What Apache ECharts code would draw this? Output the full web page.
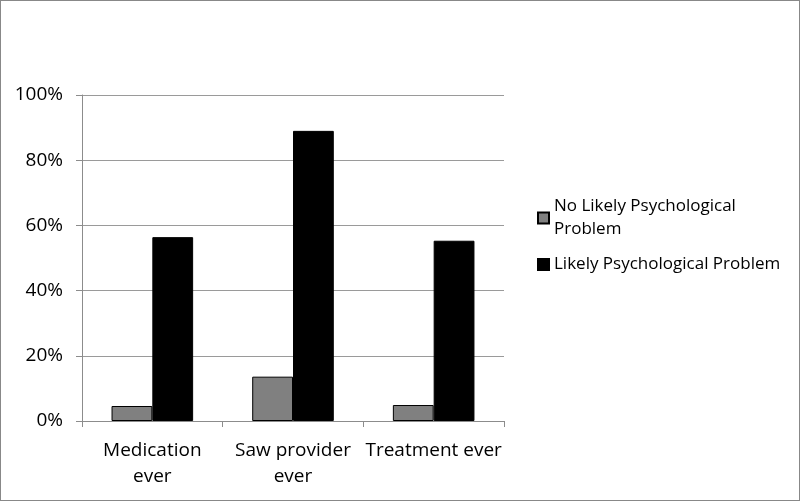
<!DOCTYPE html>
<html><head><meta charset="utf-8">
<script src="https://cdn.jsdelivr.net/npm/echarts@6/dist/echarts.min.js"></script>
<style>html,body{margin:0;padding:0;background:#fff}#c{width:798px;height:499px;border:1px solid #888}</style>
</head><body><div id="c"></div>
<script>
const categories = ['Medication\never', 'Saw provider\never', 'Treatment ever'];
const seriesNames = ['No Likely Psychological Problem', 'Likely Psychological Problem'];
const noLikely = [4.6, 13.6, 4.9];
const likely = [56.4, 89.0, 55.3];
const yTicks = [0, 20, 40, 60, 80, 100];

const chart = echarts.init(document.getElementById('c'));
const font = 'Open Sans';
chart.setOption({
  animation: false,
  textStyle: {fontFamily: font},
  grid: {left: 81, right: 295, top: 94, bottom: 79},
  legend: {
    orient: 'vertical', left: 531, top: 189,
    itemWidth: 11, itemHeight: 11, itemGap: 12, icon: 'rect',
    textStyle: {fontSize: 17, color: '#000', fontFamily: font, lineHeight: 23},
    formatter: n => n === seriesNames[0] ? 'No Likely Psychological\nProblem' : n,
    data: seriesNames
  },
  xAxis: {
    type: 'category', data: categories,
    axisLine: {lineStyle: {color: '#8c8c8c'}},
    axisTick: {show: true, length: 6, lineStyle: {color: '#8c8c8c'}},
    axisLabel: {color: '#000', fontSize: 19, fontFamily: font, lineHeight: 26, margin: 17, interval: 0}
  },
  yAxis: {
    type: 'value', min: 0, max: 100, interval: 20,
    axisLine: {show: true, lineStyle: {color: '#8c8c8c'}},
    axisTick: {show: true, length: 6, lineStyle: {color: '#8c8c8c'}},
    splitLine: {lineStyle: {color: '#9a9a9a'}},
    axisLabel: {color: '#000', fontSize: 19, fontFamily: font, margin: 19,
      formatter: v => yTicks.includes(v) ? v + '%' : ''}
  },
  series: [
    {name: seriesNames[0], type: 'bar', data: noLikely, barGap: '0%', barCategoryGap: '42%',
     itemStyle: {color: '#808080', borderColor: '#000', borderWidth: 1}},
    {name: seriesNames[1], type: 'bar', data: likely,
     itemStyle: {color: '#000', borderColor: '#000', borderWidth: 1}}
  ]
});
</script></body></html>
